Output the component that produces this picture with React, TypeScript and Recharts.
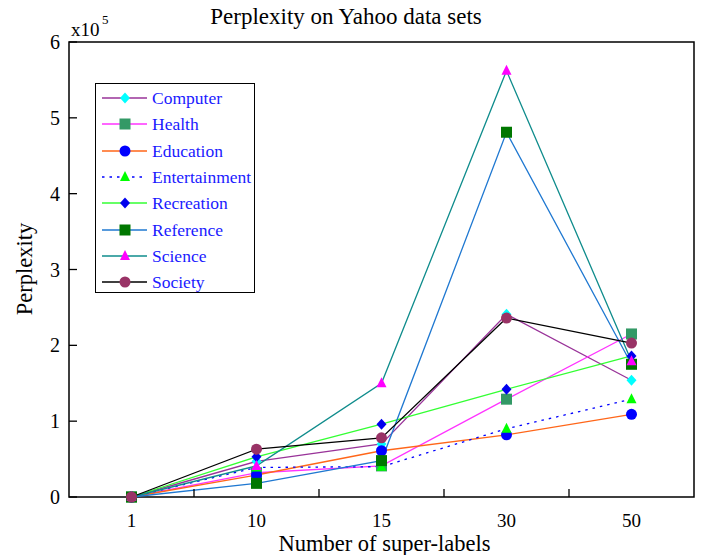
import React from 'react';
import {
  LineChart,
  Line,
  XAxis,
  YAxis,
  ReferenceArea,
  Legend,
} from 'recharts';

// values in units of 1e5
const categories = ['1', '10', '15', '30', '50'];
const computer = [0, 0.47, 0.7, 2.41, 1.54];
const health = [0, 0.32, 0.41, 1.29, 2.15];
const education = [0, 0.29, 0.61, 0.82, 1.09];
const entertainment = [0, 0.39, 0.4, 0.9, 1.29];
const recreation = [0, 0.53, 0.96, 1.42, 1.86];
const reference = [0, 0.18, 0.48, 4.81, 1.75];
const science = [0, 0.41, 1.5, 5.62, 1.79];
const society = [0, 0.63, 0.78, 2.36, 2.03];
const yTicks = [0, 1, 2, 3, 4, 5, 6];

const W = 703;
const H = 555;
const PLOT_LEFT = 69;
const PLOT_RIGHT = 694;
const PLOT_TOP = 42;
const PLOT_BOTTOM = 497;
const BAND = (PLOT_RIGHT - PLOT_LEFT) / categories.length;
const FONT = '"Liberation Serif", "Times New Roman", serif';

type Shape = 'diamond' | 'square' | 'circle' | 'triangle';

const series: { key: string; label: string; values: number[]; stroke: string; fill: string; shape: Shape; dash?: string }[] = [
  { key: 'computer', label: 'Computer', values: computer, stroke: '#993399', fill: '#00ffff', shape: 'diamond' },
  { key: 'health', label: 'Health', values: health, stroke: '#ff33ff', fill: '#339966', shape: 'square' },
  { key: 'education', label: 'Education', values: education, stroke: '#ff6619', fill: '#0000ff', shape: 'circle' },
  { key: 'entertainment', label: 'Entertainment', values: entertainment, stroke: '#0000ff', fill: '#00ff00', shape: 'triangle', dash: '2.5 5' },
  { key: 'recreation', label: 'Recreation', values: recreation, stroke: '#33ff33', fill: '#0000ee', shape: 'diamond' },
  { key: 'reference', label: 'Reference', values: reference, stroke: '#1f78d1', fill: '#007700', shape: 'square' },
  { key: 'science', label: 'Science', values: science, stroke: '#0f8c8c', fill: '#ff00ff', shape: 'triangle' },
  { key: 'society', label: 'Society', values: society, stroke: '#000000', fill: '#993366', shape: 'circle' },
];

const data = categories.map((c, i) => {
  const row: any = { idx: i, cat: c };
  series.forEach((s) => (row[s.key] = s.values[i]));
  return row;
});

const Marker = ({ shape, cx, cy, fill }: { shape: Shape; cx: number; cy: number; fill: string }) => {
  if (cx == null || cy == null) return null;
  switch (shape) {
    case 'diamond':
      return <polygon points={`${cx},${cy - 5.5} ${cx + 5},${cy} ${cx},${cy + 5.5} ${cx - 5},${cy}`} fill={fill} />;
    case 'square':
      return <rect x={cx - 5.5} y={cy - 5.5} width={11} height={11} fill={fill} />;
    case 'triangle':
      return <polygon points={`${cx},${cy - 6} ${cx + 5},${cy + 4} ${cx - 5},${cy + 4}`} fill={fill} />;
    default:
      return <circle cx={cx} cy={cy} r={5.5} fill={fill} />;
  }
};

const XTick = ({ x, y, payload }: any) => {
  const v = payload.value;
  if (Number.isInteger(v)) {
    return (
      <text x={x} y={PLOT_BOTTOM + 30} textAnchor="middle" fontSize={19} fontFamily={FONT} fill="#000">
        {categories[v]}
      </text>
    );
  }
  return <line x1={x} x2={x} y1={PLOT_BOTTOM} y2={PLOT_BOTTOM - 8} stroke="#000" strokeWidth={1.3} />;
};

const YTick = ({ y, payload }: any) => (
  <g>
    <text x={60} y={y + 7} textAnchor="end" fontSize={20} fontFamily={FONT} fill="#000">
      {payload.value}
    </text>
    <line x1={PLOT_LEFT} x2={PLOT_LEFT + 8} y1={y} y2={y} stroke="#000" strokeWidth={1.3} />
  </g>
);

const LegendBox = () => (
  <div
    style={{
      position: 'absolute',
      left: 95,
      top: 83,
      width: 158,
      height: 208,
      border: '1.5px solid #000',
      background: '#fff',
      boxSizing: 'content-box',
    }}
  >
    {series.map((s, i) => (
      <div key={s.key} style={{ position: 'absolute', left: 0, top: 1 + i * 26.3, height: 26, display: 'flex', alignItems: 'center' }}>
        <svg width={56} height={26} style={{ display: 'block' }}>
          <line x1={6} x2={51} y1={13} y2={13} stroke={s.stroke} strokeWidth={1.3} strokeDasharray={s.dash} />
          <Marker shape={s.shape} cx={29} cy={13} fill={s.fill} />
        </svg>
        <span style={{ fontFamily: FONT, fontSize: 17.5, color: '#1a1aff', whiteSpace: 'nowrap', lineHeight: '26px' }}>{s.label}</span>
      </div>
    ))}
  </div>
);

export default function App() {
  return (
    <div style={{ position: 'absolute', left: 0, top: 0, width: W, height: H, background: '#fff' }}>
      <LineChart width={W} height={H} data={data} margin={{ top: PLOT_TOP, right: W - PLOT_RIGHT, bottom: 0, left: 0 }}>
        <XAxis
          dataKey="idx"
          type="number"
          domain={[-0.5, categories.length - 0.5]}
          ticks={[0, 0.5, 1, 1.5, 2, 2.5, 3, 3.5, 4]}
          tick={<XTick />}
          tickLine={false}
          axisLine={false}
          height={H - PLOT_BOTTOM}
          interval={0}
        />
        <YAxis
          domain={[0, 6]}
          ticks={yTicks}
          tick={<YTick />}
          tickLine={false}
          axisLine={false}
          width={PLOT_LEFT}
          interval={0}
        />
        <ReferenceArea x1={-0.5} x2={categories.length - 0.5} y1={0} y2={6} fill="none" stroke="#000" strokeWidth={1.5} />
        {series.map((s) => (
          <Line
            key={s.key}
            dataKey={s.key}
            name={s.label}
            type="linear"
            stroke={s.stroke}
            strokeWidth={1.3}
            strokeDasharray={s.dash}
            dot={(p: any) => <Marker key={`${s.key}-${p.index}`} shape={s.shape} cx={p.cx} cy={p.cy} fill={s.fill} />}
            activeDot={false}
            isAnimationActive={false}
          />
        ))}
      </LineChart>
      <svg width={W} height={H} style={{ position: 'absolute', left: 0, top: 0, pointerEvents: 'none' }}>
        <text x={346} y={24} textAnchor="middle" fontSize={23} fontFamily={FONT} fill="#000">
          Perplexity on Yahoo data sets
        </text>
        <text x={71} y={36} fontSize={19} fontFamily={FONT} fill="#000">x10</text>
        <text x={102} y={24} fontSize={13} fontFamily={FONT} fill="#000">5</text>
        <text x={PLOT_LEFT + (PLOT_RIGHT - PLOT_LEFT) / 2 + 3} y={551} textAnchor="middle" fontSize={22.5} fontFamily={FONT} fill="#000">
          Number of super-labels
        </text>
        <text
          x={0}
          y={0}
          transform={`translate(32, 269) rotate(-90)`}
          textAnchor="middle"
          fontSize={22.5}
          fontFamily={FONT}
          fill="#000"
        >
          Perplexity
        </text>
      </svg>
      <LegendBox />
    </div>
  );
}
